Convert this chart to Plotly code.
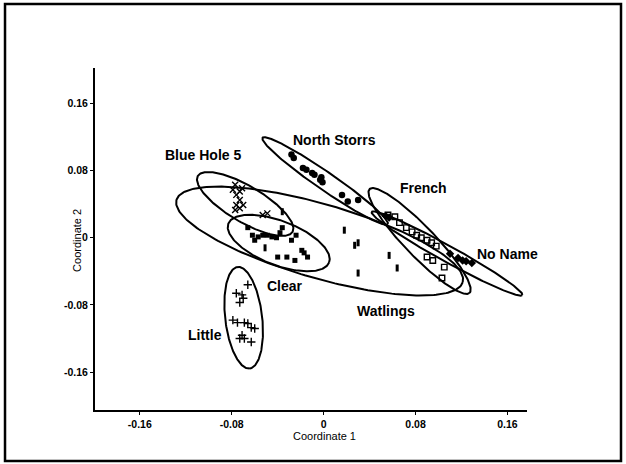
import numpy as np
import plotly.graph_objects as go

# ---------------- data ----------------
north_storrs_x = [-0.028, -0.026, -0.018, -0.015, -0.010, -0.008, -0.002, -0.003, -0.001, 0.016, 0.021, 0.030]
north_storrs_y = [0.099, 0.095, 0.083, 0.081, 0.077, 0.075, 0.072, 0.069, 0.066, 0.051, 0.043, 0.045]

blue_hole_x = [-0.079, -0.073, -0.076, -0.073, -0.076, -0.070, -0.077, -0.073, -0.077, -0.071, -0.053, -0.049]
blue_hole_y = [0.057, 0.055, 0.051, 0.045, 0.039, 0.039, 0.033, 0.035, 0.063, 0.059, 0.027, 0.029]

clear_x = [-0.066, -0.062, -0.060, -0.057, -0.053, -0.049, -0.045, -0.041, -0.038, -0.036,
           -0.028, -0.024, -0.040, -0.032, -0.025, -0.019, -0.017, -0.014]
clear_y = [0.012, 0.003, -0.003, 0.001, 0.003, 0.003, 0.001, -0.000, 0.006, 0.012,
           -0.003, 0.003, -0.023, -0.023, -0.027, -0.015, -0.018, -0.023]

watlings_x = [-0.036, -0.051, 0.018, 0.027, 0.030, 0.057, 0.064, 0.030]
watlings_y = [0.031, -0.012, 0.009, -0.009, -0.006, -0.021, -0.036, -0.042]

french_x = [0.056, 0.062, 0.066, 0.072, 0.077, 0.081, 0.085, 0.090, 0.094, 0.098, 0.090, 0.095, 0.105, 0.103]
french_y = [0.027, 0.025, 0.018, 0.012, 0.007, 0.003, -0.000, -0.003, -0.006, -0.010, -0.023, -0.027, -0.035, -0.048]

no_name_x = [0.054, 0.057, 0.110, 0.117, 0.121, 0.124, 0.129]
no_name_y = [0.026, 0.024, -0.019, -0.024, -0.027, -0.028, -0.030]

little_x = [-0.066, -0.076, -0.071, -0.070, -0.073, -0.079, -0.075, -0.069, -0.066, -0.063, -0.060, -0.071, -0.069, -0.063, -0.073]
little_y = [-0.056, -0.066, -0.068, -0.072, -0.077, -0.098, -0.101, -0.101, -0.102, -0.107, -0.108, -0.116, -0.120, -0.124, -0.120]

# ellipses: centre, major semi-axis vector, minor semi-axis vector (data units)
ellipse_names = ["Watlings", "Blue Hole 5", "Clear", "North Storrs", "French", "No Name", "Little"]
ellipse_cx = [-0.0035, -0.0683, -0.0391, 0.0013, 0.0835, 0.1074, -0.0696]
ellipse_cy = [-0.0039, 0.0402, -0.0063, 0.0676, -0.0039, -0.0188, -0.0952]
ellipse_ux = [0.12455, 0.04121, 0.04384, 0.05446, 0.04349, 0.06553, 0.00525]
ellipse_uy = [-0.04896, -0.03328, -0.02307, -0.05132, -0.06175, -0.04940, -0.06038]
ellipse_vx = [-0.00887, -0.00794, -0.00686, -0.00443, -0.00938, -0.00335, -0.01597]
ellipse_vy = [-0.04241, -0.01849, -0.02449, -0.00884, -0.01242, -0.00836, -0.00261]

label_text = ["North Storrs", "Blue Hole 5", "French", "No Name", "Clear", "Watlings", "Little"]
label_x = [0.0096, -0.1052, 0.0870, 0.1600, -0.0339, 0.0539, -0.1035]
label_y = [0.1165, 0.0986, 0.0593, -0.0194, -0.0576, -0.0874, -0.1160]

tick_vals = [-0.16, -0.08, 0, 0.08, 0.16]
tick_text = ["-0.16", "-0.08", "0", "0.08", "0.16"]

# ---------------- figure ----------------
FONT = "Liberation Sans, Arial, Helvetica, sans-serif"
fig = go.Figure()

t = np.linspace(0, 2 * np.pi, 240)
for i in range(len(ellipse_names)):
    ex = ellipse_cx[i] + ellipse_ux[i] * np.cos(t) + ellipse_vx[i] * np.sin(t)
    ey = ellipse_cy[i] + ellipse_uy[i] * np.cos(t) + ellipse_vy[i] * np.sin(t)
    fig.add_trace(go.Scatter(x=ex, y=ey, mode="lines",
                             line=dict(color="black", width=2),
                             hoverinfo="skip", showlegend=False))

groups = [
    (north_storrs_x, north_storrs_y, dict(symbol="circle", size=6.5, color="black")),
    (blue_hole_x, blue_hole_y, dict(symbol="x-thin-open", size=6, color="black", line=dict(width=1.4, color="black"))),
    (clear_x, clear_y, dict(symbol="square", size=5, color="black")),
    (watlings_x, watlings_y, dict(symbol="line-ns-open", size=5, color="black", line=dict(width=3, color="black"))),
    (french_x, french_y, dict(symbol="square-open", size=5.5, color="black", line=dict(width=1.4, color="black"))),
    (no_name_x, no_name_y, dict(symbol="diamond", size=6.5, color="black")),
    (little_x, little_y, dict(symbol="cross-thin-open", size=6, color="black", line=dict(width=1.4, color="black"))),
]
for gx, gy, mk in groups:
    fig.add_trace(go.Scatter(x=gx, y=gy, mode="markers", marker=mk, showlegend=False))

annotations = []
for txt, lx, ly in zip(label_text, label_x, label_y):
    annotations.append(dict(x=lx, y=ly, xref="x", yref="y", text=txt, showarrow=False,
                            xanchor="center", yanchor="middle",
                            font=dict(family=FONT, size=14, color="black", weight="bold")))
annotations.append(dict(x=0.532, y=-0.076, xref="paper", yref="paper", text="Coordinate 1",
                        xanchor="center", yanchor="middle",
                        showarrow=False, font=dict(family=FONT, size=11, color="black")))
annotations.append(dict(x=-0.042, y=0.497, xref="paper", yref="paper", text="Coordinate 2",
                        xanchor="center", yanchor="middle",
                        textangle=-90, showarrow=False, font=dict(family=FONT, size=11, color="black")))

axis_common = dict(showgrid=False, zeroline=False, showline=True, linecolor="black", linewidth=2,
                   ticks="outside", ticklen=3, tickwidth=1, tickcolor="black", mirror=False,
                   tickvals=tick_vals, ticktext=tick_text,
                   tickfont=dict(family=FONT, size=10.5, color="black", weight="bold"))

fig.update_layout(
    width=626, height=464,
    margin=dict(l=95, r=99, t=68, b=54),
    paper_bgcolor="white", plot_bgcolor="white",
    xaxis=dict(range=[-0.199, 0.177], **axis_common),
    yaxis=dict(range=[-0.205, 0.202], **axis_common),
    annotations=annotations,
    shapes=[dict(type="rect", xref="paper", yref="paper", x0=-0.2083, x1=1.2176, y0=-0.1491, y1=1.1871,
                 line=dict(color="black", width=2.5), fillcolor="rgba(0,0,0,0)", layer="above")],
)

fig.write_html("out.html", config={"displayModeBar": False},
               post_script="document.body.style.margin='0';document.body.style.overflow='hidden';")
